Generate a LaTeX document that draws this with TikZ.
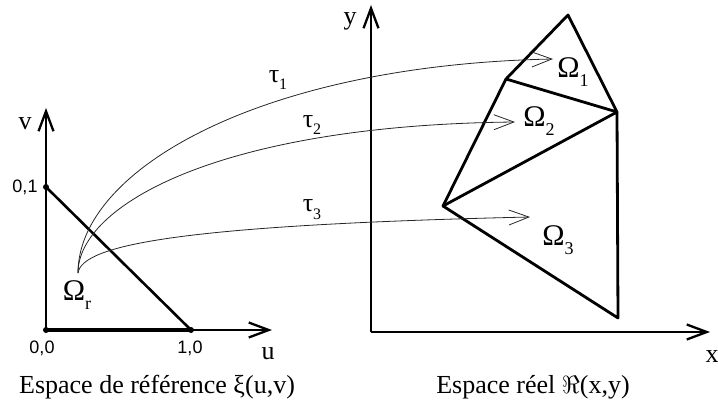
\documentclass[tikz,border=0pt]{standalone}
\usepackage{fontspec}
\setmainfont{Liberation Serif}
\newfontfamily\sansf{Liberation Sans}
\usetikzlibrary{arrows.meta}
\newcommand\sbs[2]{\raisebox{-0.3em}{\fontsize{#1}{#1}\selectfont #2}}
\begin{document}
\begin{tikzpicture}[x=1pt,y=-1pt,
  barb/.style={-{Straight Barb[length=20pt,width=15pt]}},
  axis/.style={line width=2.3pt, barb},
  edge/.style={line width=2.8pt, line cap=round, line join=round},
  map/.style={line width=0.8pt, black!85, barb},
  lab/.style={font=\fontsize{26}{30}\selectfont, inner sep=0pt, anchor=base},
  num/.style={font=\sansf\fontsize{18}{20}\selectfont, inner sep=0pt, anchor=base},
  omega/.style={font=\fontsize{30}{34}\selectfont, inner sep=0pt},
  tau/.style={font=\fontsize{26}{30}\selectfont, inner sep=0pt},
  dot/.style={circle, fill, inner sep=0pt, minimum size=6pt}
]
\useasboundingbox (0,0) rectangle (718,412);

% ---- reference space ----
\node[dot] (P00) at (46,330) {};
\node[dot] (P01) at (46,187) {};
\node[dot] (P10) at (191,330) {};
\coordinate (vt) at (46,108);
\coordinate (ut) at (272,330);
\draw[axis] (P00.center) -- (vt);
\draw[axis] (P00.center) -- (ut);
\draw[line width=4pt] (P00.center) -- (P10.center);
\draw[line width=2.6pt] (P01.center) -- (P10.center);

\node[lab] (v) at (25,129) {v};
\node[lab] (u) at (268,359) {u};
\node[num] (l01) at (25,192) {0,1};
\node[num] (l00) at (42,353) {0,0};
\node[num] (l10) at (190,353) {1,0};
\node[omega] (Or) at (77,295) {Ω\sbs{18}{r}};
\node[lab] (capL) at (157,393) {Espace de référence ξ(u,v)};

% ---- real space ----
\coordinate (R0) at (371,332);
\coordinate (yt) at (371,5);
\coordinate (xt) at (710,332);
\draw[axis] (R0) -- (yt);
\draw[axis] (R0) -- (xt);
\node[lab] (y) at (350,25) {y};
\node[lab] (x) at (712,362) {x};

\coordinate (A) at (568,15);
\coordinate (B) at (506,79);
\coordinate (C) at (617,112);
\coordinate (D) at (443,206);
\coordinate (E) at (618,318);
\draw[edge] (D) -- (B) -- (A) -- (C) -- (B);
\draw[edge] (C) -- (E) -- (D) -- (C);

\node[omega] (O1) at (573,72) {Ω\sbs{18}{1}};
\node[omega] (O2) at (539,121) {Ω\sbs{18}{2}};
\node[omega] (O3) at (558,240) {Ω\sbs{18}{3}};
\node[lab] (capR) at (533,393) {Espace réel $\Re$(x,y)};

% ---- mappings ----
\coordinate (s) at (78,273);
\coordinate (t1) at (553,59);
\coordinate (t2) at (515,122);
\coordinate (t3) at (530,217);
\draw[map] (s) .. controls (78,170) and (260,65) .. (t1);
\draw[map] (s) .. controls (78,205) and (220,125) .. (t2);
\draw[map] (s) .. controls (82,245) and (180,225) .. (t3);
\node[tau] (tau1) at (278,80) {τ\sbs{16}{1}};
\node[tau] (tau2) at (312,125) {τ\sbs{16}{2}};
\node[tau] (tau3) at (312,210) {τ\sbs{16}{3}};
\end{tikzpicture}
\end{document}
